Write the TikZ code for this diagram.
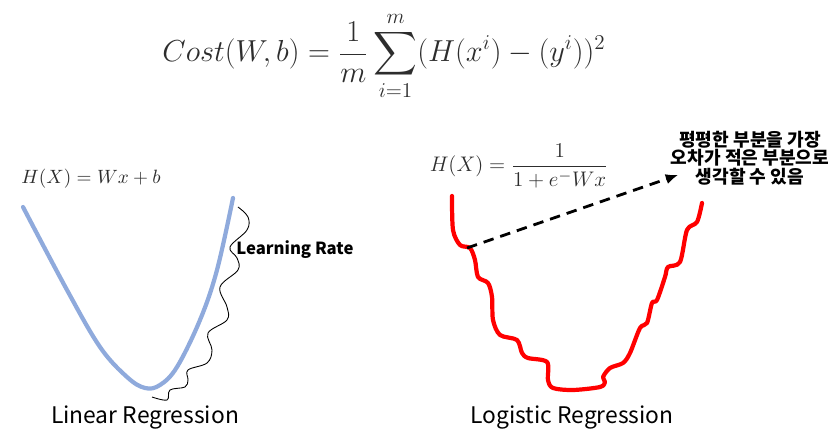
\documentclass[tikz,border=0pt]{standalone}
\usepackage{amsmath}
\usepackage{fontspec}
\usepackage{tikz}
\usetikzlibrary{arrows.meta, positioning}
\newfontfamily\krfont{Noto Sans CJK KR}
\definecolor{mathgray}{RGB}{45,45,45}
\definecolor{linblue}{RGB}{143,170,220}
\definecolor{logred}{RGB}{255,0,0}
\tikzset{
  formula/.style={text=mathgray, inner sep=0pt},
  caption/.style={font=\krfont\fontsize{13}{15}\selectfont, inner sep=0pt},
  note/.style={font=\krfont\bfseries\fontsize{10.3}{10.6}\selectfont, align=center, inner sep=0pt},
  costcurve/.style={line width=2.4pt, line cap=round, line join=round},
  dasharrow/.style={-{Latex[length=7pt,width=6pt]}, line width=1.6pt, dash pattern=on 6pt off 4pt}
}

\begin{document}
\begin{tikzpicture}[x=0.02cm, y=-0.02cm]
  \useasboundingbox (0,0) rectangle (838,448);

  % Cost function
  \node[formula, font=\fontsize{16.4}{18}\selectfont] (cost) at (384,56)
    {$\displaystyle Cost(W,b)=\frac{1}{m}\sum_{i=1}^{m}(H(x^i)-(y^i))^2$};

  % Linear regression
  \node[formula, font=\fontsize{10.7}{13}\selectfont] (linh) at (91,179) {$H(X)=Wx+b$};
  \draw[costcurve, linblue] plot[smooth, tension=0.6] coordinates
    {(23,207) (67,290) (100,347) (127,377) (145,388) (160,385) (177,367) (200,320) (217,270) (233,198)};
  \draw[black, line width=0.5pt] plot[smooth, tension=0.6] coordinates
    {(238,207) (248,217) (247,230) (230,247) (237,258) (238,270) (220,287) (227,307)
     (227,320) (208,333) (212,350) (207,363) (188,370) (188,380) (185,387) (170,390)
     (167,400) (152,397)};
  \node[note, font=\krfont\bfseries\fontsize{9.5}{11}\selectfont, anchor=west] (lrate) at (236,250) {Learning Rate};
  \node[caption] (lincap) at (145,418) {Linear Regression};

  % Logistic regression
  \node[formula, font=\fontsize{12.8}{15}\selectfont] (logh) at (519,166) {$H(X)=\dfrac{1}{1+e^{-}Wx}$};
  \draw[costcurve, logred] plot[smooth, tension=0.5] coordinates
    {(452,196) (453,230) (460,245) (470,248) (475,260) (478,277) (488,283) (492,297)
     (493,320) (500,335) (517,340) (522,353) (528,358) (547,362) (548,380) (553,388)
     (573,390) (600,387) (605,382) (603,377) (610,368) (623,363) (630,353) (640,328)
     (647,323) (652,303) (657,300) (665,277) (668,267) (680,262) (687,230) (697,222)
     (702,203)};
  \coordinate (flat) at (467,248);
  \node[note] (flatnote) at (750,158) {평평한 부분을 가장\\오차가 적은 부분으로\\생각할 수 있음};
  \coordinate (tip) at (678,175);
  \draw[dasharrow] (flat) -- (tip);
  \node[caption] (logcap) at (572,418) {Logistic Regression};
\end{tikzpicture}
\end{document}
